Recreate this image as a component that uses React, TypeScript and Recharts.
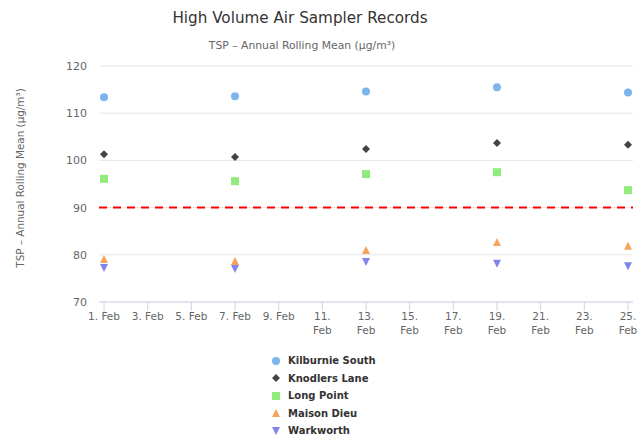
import React from 'react';
import { ScatterChart, Scatter, XAxis, YAxis, CartesianGrid, ReferenceLine, Legend } from 'recharts';

const days = [1, 7, 13, 19, 25];
const kilburnieSouth = [113.4, 113.6, 114.6, 115.5, 114.4];
const knodlersLane = [101.3, 100.7, 102.4, 103.7, 103.3];
const longPoint = [96.1, 95.6, 97.1, 97.5, 93.7];
const maisonDieu = [79.1, 78.7, 81.0, 82.7, 81.9];
const warkworth = [77.2, 77.0, 78.5, 78.1, 77.6];
const xTicks = [1, 3, 5, 7, 9, 11, 13, 15, 17, 19, 21, 23, 25];
const yTicks = [70, 80, 90, 100, 110, 120];
const limitValue = 90;

const toPoints = (vals: number[]) => vals.map((v, i) => ({ x: days[i], y: v }));

type Kind = 'circle' | 'diamond' | 'square' | 'triangle' | 'triangle-down';

const seriesList: { name: string; color: string; kind: Kind; data: { x: number; y: number }[] }[] = [
  { name: 'Kilburnie South', color: '#7cb5ec', kind: 'circle', data: toPoints(kilburnieSouth) },
  { name: 'Knodlers Lane', color: '#434348', kind: 'diamond', data: toPoints(knodlersLane) },
  { name: 'Long Point', color: '#90ed7d', kind: 'square', data: toPoints(longPoint) },
  { name: 'Maison Dieu', color: '#f7a35c', kind: 'triangle', data: toPoints(maisonDieu) },
  { name: 'Warkworth', color: '#8085e9', kind: 'triangle-down', data: toPoints(warkworth) },
];

const FONT = 'DejaVu Sans, sans-serif';

const Marker = ({ kind, color, cx, cy, r = 4 }: { kind: Kind; color: string; cx: number; cy: number; r?: number }) => {
  switch (kind) {
    case 'circle':
      return <circle cx={cx} cy={cy} r={r} fill={color} />;
    case 'diamond':
      return <path d={`M${cx},${cy - r} L${cx + r},${cy} L${cx},${cy + r} L${cx - r},${cy} Z`} fill={color} />;
    case 'square':
      return <rect x={cx - r} y={cy - r} width={2 * r} height={2 * r} fill={color} />;
    case 'triangle':
      return <path d={`M${cx},${cy - r} L${cx + r},${cy + r} L${cx - r},${cy + r} Z`} fill={color} />;
    case 'triangle-down':
      return <path d={`M${cx - r},${cy - r} L${cx + r},${cy - r} L${cx},${cy + r} Z`} fill={color} />;
  }
  return null;
};

const makeShape = (kind: Kind, color: string) => (props: any) => (
  <Marker kind={kind} color={color} cx={props.cx} cy={props.cy} />
);

const XTick = (props: any) => {
  const { x, y, payload } = props;
  const d = payload.value;
  const common = { fill: '#666666', fontSize: 10.5, fontFamily: FONT, textAnchor: 'middle' as const };
  if (d < 11) {
    return (
      <text x={x} y={y + 7} {...common}>{`${d}. Feb`}</text>
    );
  }
  return (
    <g>
      <text x={x} y={y + 7} {...common}>{`${d}.`}</text>
      <text x={x} y={y + 21} {...common}>Feb</text>
    </g>
  );
};

const LegendContent = () => (
  <div style={{ fontFamily: FONT, fontSize: 10, fontWeight: 'bold', color: '#333333' }}>
    {seriesList.map((s) => (
      <div key={s.name} style={{ display: 'flex', alignItems: 'center', height: 17.5 }}>
        <svg width={12} height={12} style={{ marginRight: 6 }}>
          <Marker kind={s.kind} color={s.color} cx={6} cy={6} r={4} />
        </svg>
        <span>{s.name}</span>
      </div>
    ))}
  </div>
);

export default function App() {
  return (
    <div style={{ position: 'absolute', left: 0, top: 0, width: 643, height: 439, background: '#fff' }}>
      <ScatterChart width={643} height={439} margin={{ top: 66, right: 10, bottom: 107, left: 0 }}>
        <text x={300} y={23} textAnchor="middle" fill="#333333" fontSize={15.2} fontFamily={FONT}>
          High Volume Air Sampler Records
        </text>
        <text x={302} y={49} textAnchor="middle" fill="#666666" fontSize={10.8} fontFamily={FONT}>
          TSP – Annual Rolling Mean (µg/m³)
        </text>
        <text
          x={0}
          y={0}
          transform="translate(24,178) rotate(-90)"
          textAnchor="middle"
          fill="#666666"
          fontSize={10.4}
          fontFamily={FONT}
        >
          TSP – Annual Rolling Mean (µg/m³)
        </text>
        <CartesianGrid horizontal vertical={false} stroke="#e6e6e6" />
        <XAxis
          type="number"
          dataKey="x"
          domain={[0.77, 25.23]}
          ticks={xTicks}
          allowDataOverflow
          interval={0}
          axisLine={{ stroke: '#ccd6eb' }}
          tickLine={{ stroke: '#ccd6eb' }}
          tickSize={9}
          tick={<XTick />}
        />
        <YAxis
          type="number"
          dataKey="y"
          domain={[70, 120]}
          ticks={yTicks}
          width={99}
          axisLine={false}
          tickLine={false}
          tickMargin={6}
          tick={{ fill: '#666666', fontSize: 11, fontFamily: FONT }}
        />
        <ReferenceLine y={limitValue} stroke="#ff0000" strokeWidth={2} strokeDasharray="8 6" />
        {seriesList.map((s) => (
          <Scatter
            key={s.name}
            name={s.name}
            data={s.data}
            fill={s.color}
            shape={makeShape(s.kind, s.color)}
            isAnimationActive={false}
          />
        ))}
        <Legend
          layout="vertical"
          align="center"
          verticalAlign="middle"
          content={<LegendContent />}
          wrapperStyle={{ left: 270, top: 352, width: 200, height: 90 }}
        />
      </ScatterChart>
    </div>
  );
}
